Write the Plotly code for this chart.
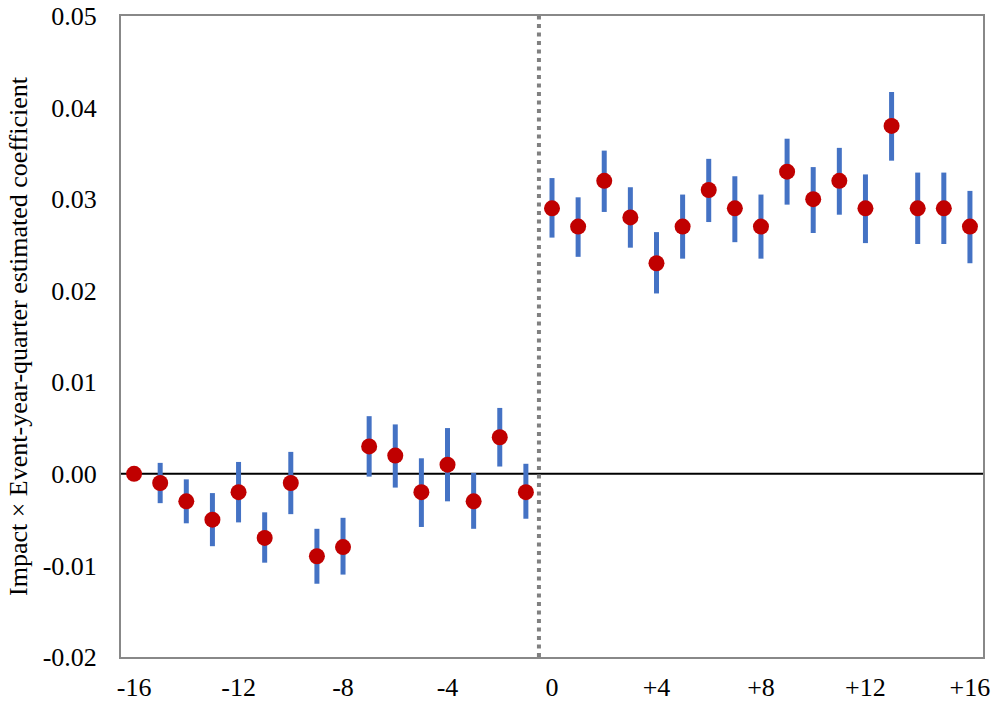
import plotly.graph_objects as go

quarters = list(range(-16, 17))
coef = [0.000, -0.001, -0.003, -0.005, -0.002, -0.007, -0.001, -0.009, -0.008,
        0.003, 0.002, -0.002, 0.001, -0.003, 0.004, -0.002,
        0.029, 0.027, 0.032, 0.028, 0.023, 0.027, 0.031, 0.029, 0.027,
        0.033, 0.030, 0.032, 0.029, 0.038, 0.029, 0.029, 0.027]
upper = [0.000, 0.0012, -0.0006, -0.0021, 0.0013, -0.0042, 0.0024, -0.0060, -0.0048,
         0.0063, 0.0054, 0.0017, 0.0050, 0.0001, 0.0072, 0.0011,
         0.0323, 0.0302, 0.0353, 0.0313, 0.0264, 0.0305, 0.0344, 0.0325, 0.0305,
         0.0366, 0.0335, 0.0356, 0.0327, 0.0417, 0.0329, 0.0329, 0.0309]
lower = [0.000, -0.0032, -0.0054, -0.0079, -0.0053, -0.0097, -0.0044, -0.0120, -0.0110,
         -0.0003, -0.0015, -0.0058, -0.0030, -0.0060, 0.0008, -0.0049,
         0.0258, 0.0237, 0.0286, 0.0247, 0.0197, 0.0235, 0.0275, 0.0253, 0.0235,
         0.0294, 0.0263, 0.0283, 0.0252, 0.0342, 0.0251, 0.0251, 0.0230]
xtick_vals = [-16, -12, -8, -4, 0, 4, 8, 12, 16]
xtick_text = ["-16", "-12", "-8", "-4", "0", "+4", "+8", "+12", "+16"]
ytick_vals = [-0.02, -0.01, 0.0, 0.01, 0.02, 0.03, 0.04, 0.05]
ytick_text = ["-0.02", "-0.01", "0.00", "0.01", "0.02", "0.03", "0.04", "0.05"]
event_line = -0.5

err_plus = [u - c for u, c in zip(upper, coef)]
err_minus = [c - l for c, l in zip(coef, lower)]

FONT = "Liberation Serif"

fig = go.Figure()
fig.add_trace(go.Scatter(
    x=quarters, y=coef, mode="markers",
    marker=dict(color="#C00000", size=16, line=dict(width=0)),
    error_y=dict(type="data", symmetric=False, array=err_plus, arrayminus=err_minus,
                 color="#4472C4", thickness=5, width=0),
    showlegend=False,
))

fig.add_shape(type="line", xref="x", yref="paper", x0=event_line, x1=event_line,
              y0=0, y1=1, line=dict(color="#808080", width=4, dash="4px,4.5px"),
              layer="above")
fig.add_shape(type="line", xref="paper", yref="y", x0=0, x1=1, y0=0, y1=0,
              line=dict(color="black", width=2), layer="below")

fig.update_layout(
    width=995, height=702,
    margin=dict(l=121, r=12, t=16, b=45),
    paper_bgcolor="white", plot_bgcolor="white",
    font=dict(family=FONT, size=26, color="black"),
    xaxis=dict(range=[-16.5, 16.5], tickvals=xtick_vals, ticktext=xtick_text,
               showgrid=False, zeroline=False, showline=True, linecolor="#888888",
               linewidth=2, mirror=True, ticks="", ticklabelstandoff=6,
               automargin=False),
    yaxis=dict(range=[-0.02, 0.05], tickvals=ytick_vals, ticktext=ytick_text,
               showgrid=False, zeroline=False, showline=True, linecolor="#888888",
               linewidth=2, mirror=True, ticks="", ticklabelstandoff=17,
               automargin=False,
               title=dict(text="Impact × Event-year-quarter estimated coefficient",
                          font=dict(size=26), standoff=8)),
)

fig.write_html("out.html", config={"displayModeBar": False},
               post_script="document.body.style.margin='0';")
